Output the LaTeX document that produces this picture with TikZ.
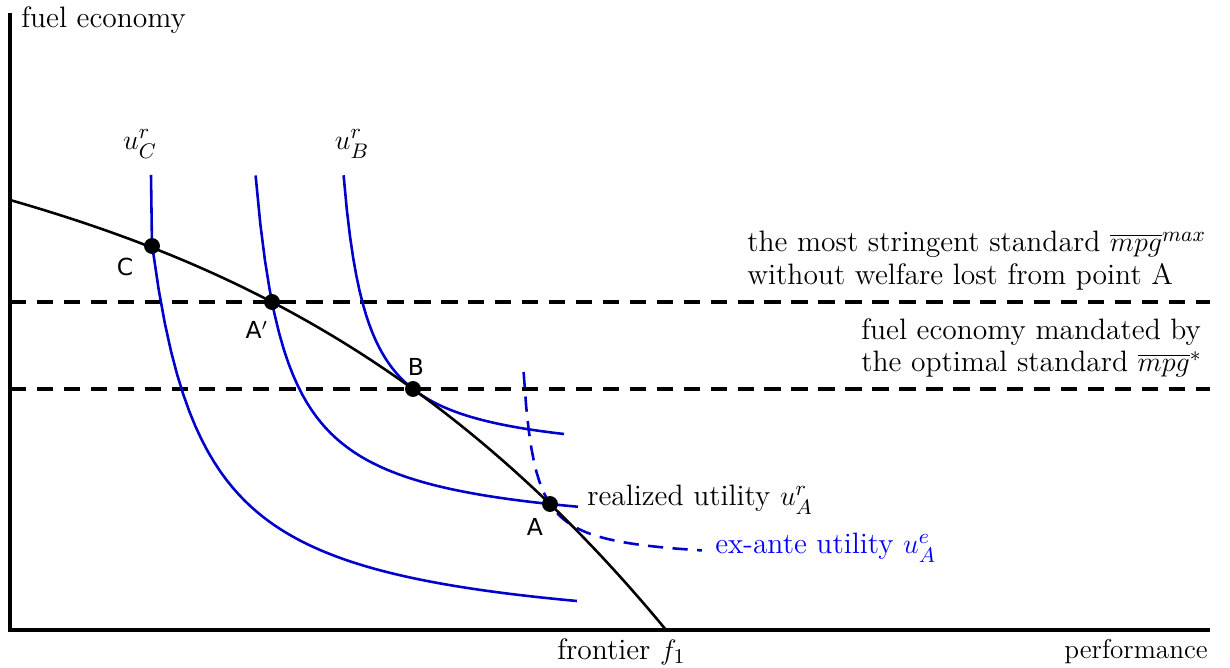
\documentclass[tikz,border=0pt]{standalone}
\usepackage{amsmath,amssymb}
\usepackage{fontspec}
\usepackage{xcolor}
\usepackage{tikz}
\newfontfamily\ptfont{DejaVu Sans}
\definecolor{indiffblue}{RGB}{0,0,204}
\tikzset{
  indiff/.style={line width=1.1pt, indiffblue},
  standard/.style={line width=1.3pt, dash pattern=on 7pt off 4.5pt},
  optpoint/.style={circle, fill=black, inner sep=0pt, minimum size=6.8pt},
  ptlabel/.style={font=\fontsize{10}{12}\ptfont},
}

\begin{document}
\begin{tikzpicture}[x=1.5cm, y=1.5cm, font=\fontsize{12.6}{14}\selectfont]
\useasboundingbox (-0.10,-0.38) rectangle (12.20,6.30);
% axes
\coordinate (O) at (0,0);
\coordinate (xend) at (12.0,0);
\coordinate (yend) at (0,6.17);
\draw[line width=1.3pt] (yend) -- (O) -- (xend);
% points on the frontier
\coordinate (C) at (1.42,3.84);
\coordinate (Ap) at (2.62,3.28);
\coordinate (B) at (4.03,2.41);
\coordinate (A) at (5.40,1.26);
% standards
\draw[standard] (Ap -| O) -- (Ap -| xend);
\draw[standard] (B -| O) -- (B -| xend);
% indifference curves
\draw[indiff] (1.41,4.55) -- (C) -- plot[domain=1.425:5.67, samples=70] (\x,{-0.147+2.084/(\x-0.9)});
\draw[indiff] plot[domain=2.456:5.68, samples=70] (\x,{0.918+1.110/(\x-2.15)});
\draw[indiff] plot[domain=3.336:5.54, samples=70] (\x,{1.683+0.676/(\x-3.1)});
\draw[indiff, dash pattern=on 6.5pt off 4pt] plot[domain=5.136:6.92, samples=70] (\x,{0.68+0.2204/(\x-5.02)});
% frontier
\draw[line width=1.1pt] plot[domain=0:6.56, samples=80] (\x,{4.3-0.2872*\x-0.0276*\x*\x-0.004348*\x*\x*\x});
\node[optpoint] (pC) at (C) {};
\node[optpoint] (pAp) at (Ap) {};
\node[optpoint] (pB) at (B) {};
\node[optpoint] (pA) at (A) {};
\node[ptlabel] (lC) at (1.15,3.63) {C};
\node[ptlabel] (lAp) at (2.47,3.00) {A$'$};
\node[ptlabel] (lB) at (4.06,2.63) {B};
\node[ptlabel] (lA) at (5.25,1.03) {A};
% labels
\node[anchor=west] (ylab) at (0.03,6.10) {fuel economy};
\node[anchor=east, font=\fontsize{11.6}{14}\selectfont] (xlab) at (12.06,-0.22) {performance};
\node[anchor=west] (flab) at (5.39,-0.22) {frontier $f_1$};
\node (uClab) at (1.30,4.86) {$u^r_C$};
\node (uBlab) at (3.42,4.86) {$u^r_B$};
\node[anchor=west, align=left] (maxlab) at (7.29,3.69) {the most stringent standard $\overline{mpg}^{max}$\\without welfare lost from point A};
\node[anchor=west, align=left] (optlab) at (8.43,2.82) {fuel economy mandated by\\the optimal standard $\overline{mpg}^*$};
\node[anchor=west] (ralab) at (5.69,1.30) {realized utility $u^r_A$};
\node[anchor=west, blue] (ealab) at (6.97,0.82) {ex-ante utility $u^e_A$};
\end{tikzpicture}
\end{document}
